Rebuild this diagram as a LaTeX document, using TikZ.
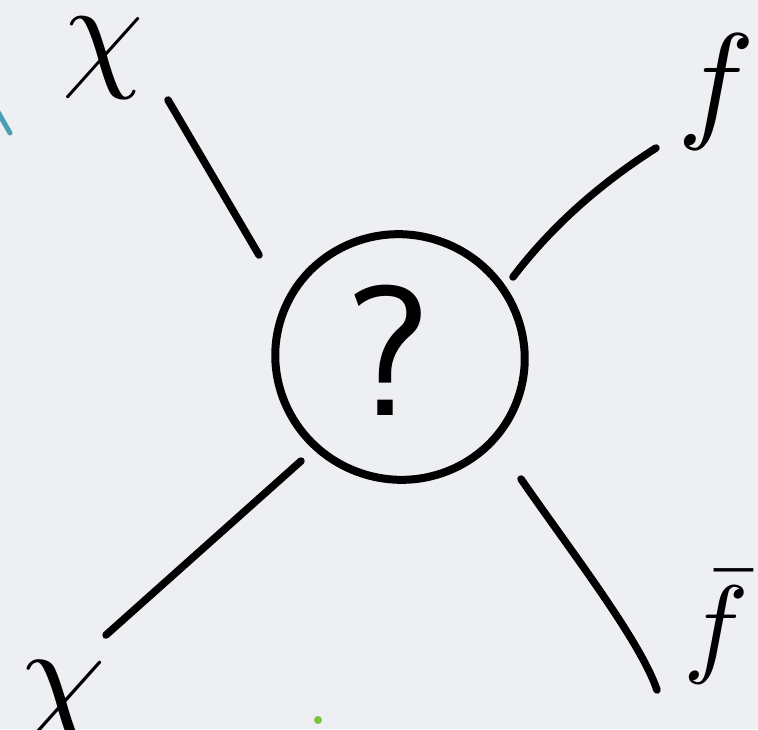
\documentclass[tikz,border=0pt]{standalone}
\usetikzlibrary{shapes.geometric}
\definecolor{bgcol}{HTML}{EEEFF2}
\definecolor{tealmark}{HTML}{4A9FB5}
\definecolor{greendot}{HTML}{7DC242}
\tikzset{
  stroke/.style={line width=7.5pt, line cap=round, black},
  lbl/.style={inner sep=0pt, text=black},
}
\begin{document}
\begin{tikzpicture}[x=1pt, y=-1pt]
  \fill[bgcol] (0,0) rectangle (758,729);
  \useasboundingbox (0,0) rectangle (758,729);
  % blob
  \node[ellipse, draw, line width=8pt, minimum width=250pt, minimum height=245pt,
        rotate=-20, inner sep=0pt] (blob) at (400,357) {};
  \node[lbl, font=\sffamily, scale=18.5] (q) at (388,350) {?};
  % legs
  \coordinate (tl1) at (168,100); \coordinate (tl2) at (259,255);
  \coordinate (tr1) at (656,148); \coordinate (tr2) at (513,277);
  \coordinate (bl1) at (301,461); \coordinate (bl2) at (106,635);
  \coordinate (br1) at (521,479); \coordinate (br2) at (657,690);
  \draw[stroke] (tl1) -- (tl2);
  \draw[stroke] (tr1) .. controls (590,190) and (545,235) .. (tr2);
  \draw[stroke] (bl1) -- (bl2);
  \draw[stroke] (br1) .. controls (570,550) and (640,640) .. (br2);
  % labels
  \node[lbl, scale=13] (chi1) at (103,58) {$\chi$};
  \node[lbl, scale=13] (f1) at (716,92) {$f$};
  \node[lbl, scale=14] (chi2) at (62,705) {$\chi$};
  \node[lbl, scale=11] (f2) at (716,627) {$\bar{f}$};
  % stray marks
  \draw[line width=5pt, line cap=round, tealmark] (-2,112) -- (10,133);
  \fill[greendot] (318,720) circle (4pt);
\end{tikzpicture}
\end{document}
